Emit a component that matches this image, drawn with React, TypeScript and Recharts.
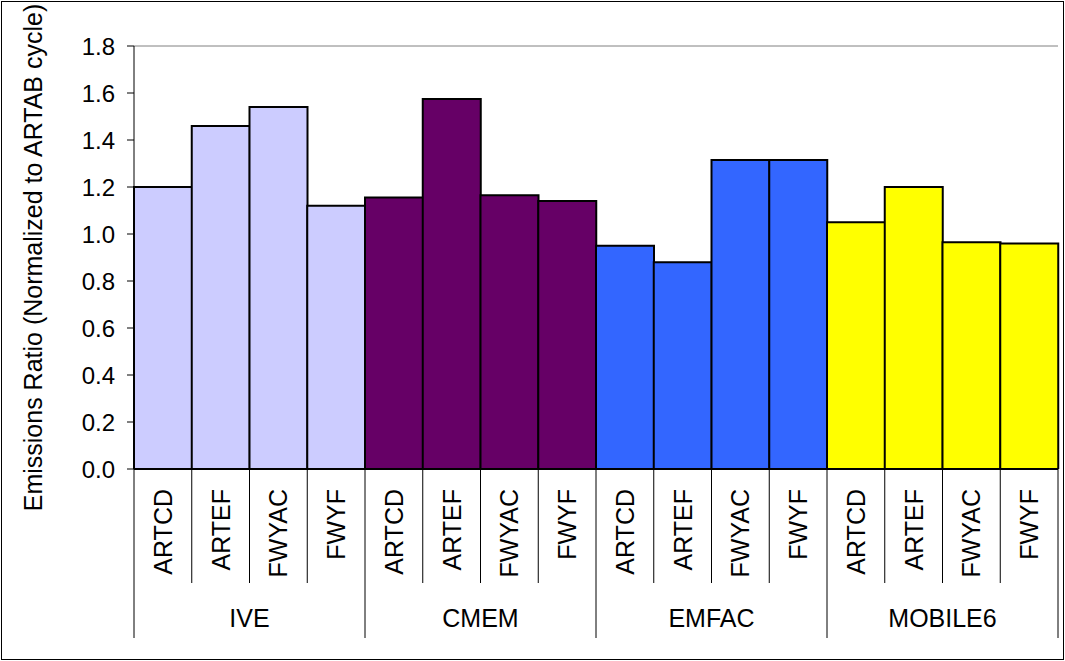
import { BarChart, Bar, Cell, XAxis, YAxis, ReferenceLine } from 'recharts';

// driving cycles, repeated under each model group
const cycles = ['ARTCD', 'ARTEF', 'FWYAC', 'FWYF'];
const models = ['IVE', 'CMEM', 'EMFAC', 'MOBILE6'];

// emissions ratio, normalized to the ARTAB cycle
const iveValues = [1.2, 1.46, 1.54, 1.12];
const cmemValues = [1.155, 1.575, 1.165, 1.14];
const emfacValues = [0.95, 0.88, 1.315, 1.315];
const mobile6Values = [1.05, 1.2, 0.965, 0.96];

const yTicks = [0, 0.2, 0.4, 0.6, 0.8, 1.0, 1.2, 1.4, 1.6, 1.8];
const modelColors = ['#CCCCFF', '#660066', '#3366FF', '#FFFF00'];

const modelValues = [iveValues, cmemValues, emfacValues, mobile6Values];

const rows = models.flatMap((model, m) =>
  cycles.map((cycle, c) => ({
    key: `${model}-${cycle}`,
    model,
    cycle,
    modelIndex: m,
    value: modelValues[m][c],
  }))
);

const FONT = '"Liberation Sans", Arial, sans-serif';

// rotated cycle name, separators between bars and the model name under each group
const CategoryTick = (props: any) => {
  const { x, y, index, width } = props;
  const row = rows[index];
  if (!row) return null;
  const half = (width ?? 924) / rows.length / 2;
  const left = x - half;
  const right = x + half;
  const pos = index % cycles.length;
  const groupStart = pos === 0;
  return (
    <g>
      <line x1={left} x2={left} y1={y} y2={y + (groupStart ? 169 : 114)} stroke="#000" strokeWidth={1} />
      {index === rows.length - 1 && (
        <line x1={right} x2={right} y1={y} y2={y + 169} stroke="#000" strokeWidth={1} />
      )}
      <text
        transform={`translate(${x},${y + 20}) rotate(-90)`}
        textAnchor="end"
        dominantBaseline="central"
        fontFamily={FONT}
        fontSize={25}
        fill="#000"
      >
        {row.cycle}
      </text>
      {pos === 1 && (
        <text x={right} y={y + 158} textAnchor="middle" fontFamily={FONT} fontSize={25} fill="#000">
          {row.model}
        </text>
      )}
    </g>
  );
};

const YTitle = ({ viewBox }: any) => {
  const cx = viewBox.x + 31;
  const cy = viewBox.y + viewBox.height / 2;
  return (
    <text
      transform={`translate(${cx},${cy}) rotate(-90)`}
      textAnchor="middle"
      dominantBaseline="central"
      fontFamily={FONT}
      fontSize={25}
      fill="#000"
    >
      Emissions Ratio (Normalized to ARTAB cycle)
    </text>
  );
};

export default function App() {
  return (
    <div
      style={{
        position: 'absolute',
        left: 1,
        top: 1,
        width: 1061,
        height: 657,
        border: '1px solid #000',
        background: '#fff',
      }}
    >
      <BarChart
        width={1061}
        height={657}
        data={rows}
        margin={{ top: 44, right: 5, bottom: 0, left: 0 }}
        barCategoryGap={0}
        barGap={0}
      >
        <XAxis
          dataKey="key"
          interval={0}
          height={190}
          tickLine={false}
          tickSize={0}
          tickMargin={0}
          axisLine={{ stroke: '#000', strokeWidth: 2 }}
          tick={<CategoryTick />}
        />
        <YAxis
          domain={[0, 1.8]}
          ticks={yTicks}
          width={132}
          tickSize={7}
          tickMargin={12}
          tickFormatter={(v: number) => v.toFixed(1)}
          tick={{ fontFamily: FONT, fontSize: 24, fill: '#000' }}
          tickLine={{ stroke: '#000' }}
          axisLine={{ stroke: '#000' }}
          allowDataOverflow
          label={<YTitle />}
        />
        <YAxis
          yAxisId="frame"
          orientation="right"
          width={0}
          domain={[0, 1.8]}
          tick={false}
          tickLine={false}
          axisLine={{ stroke: '#808080' }}
        />
        <ReferenceLine y={1.8} stroke="#808080" />
        <Bar dataKey="value" stroke="#000" strokeWidth={2} isAnimationActive={false}>
          {rows.map((r) => (
            <Cell key={r.key} fill={modelColors[r.modelIndex]} />
          ))}
        </Bar>
      </BarChart>
    </div>
  );
}
